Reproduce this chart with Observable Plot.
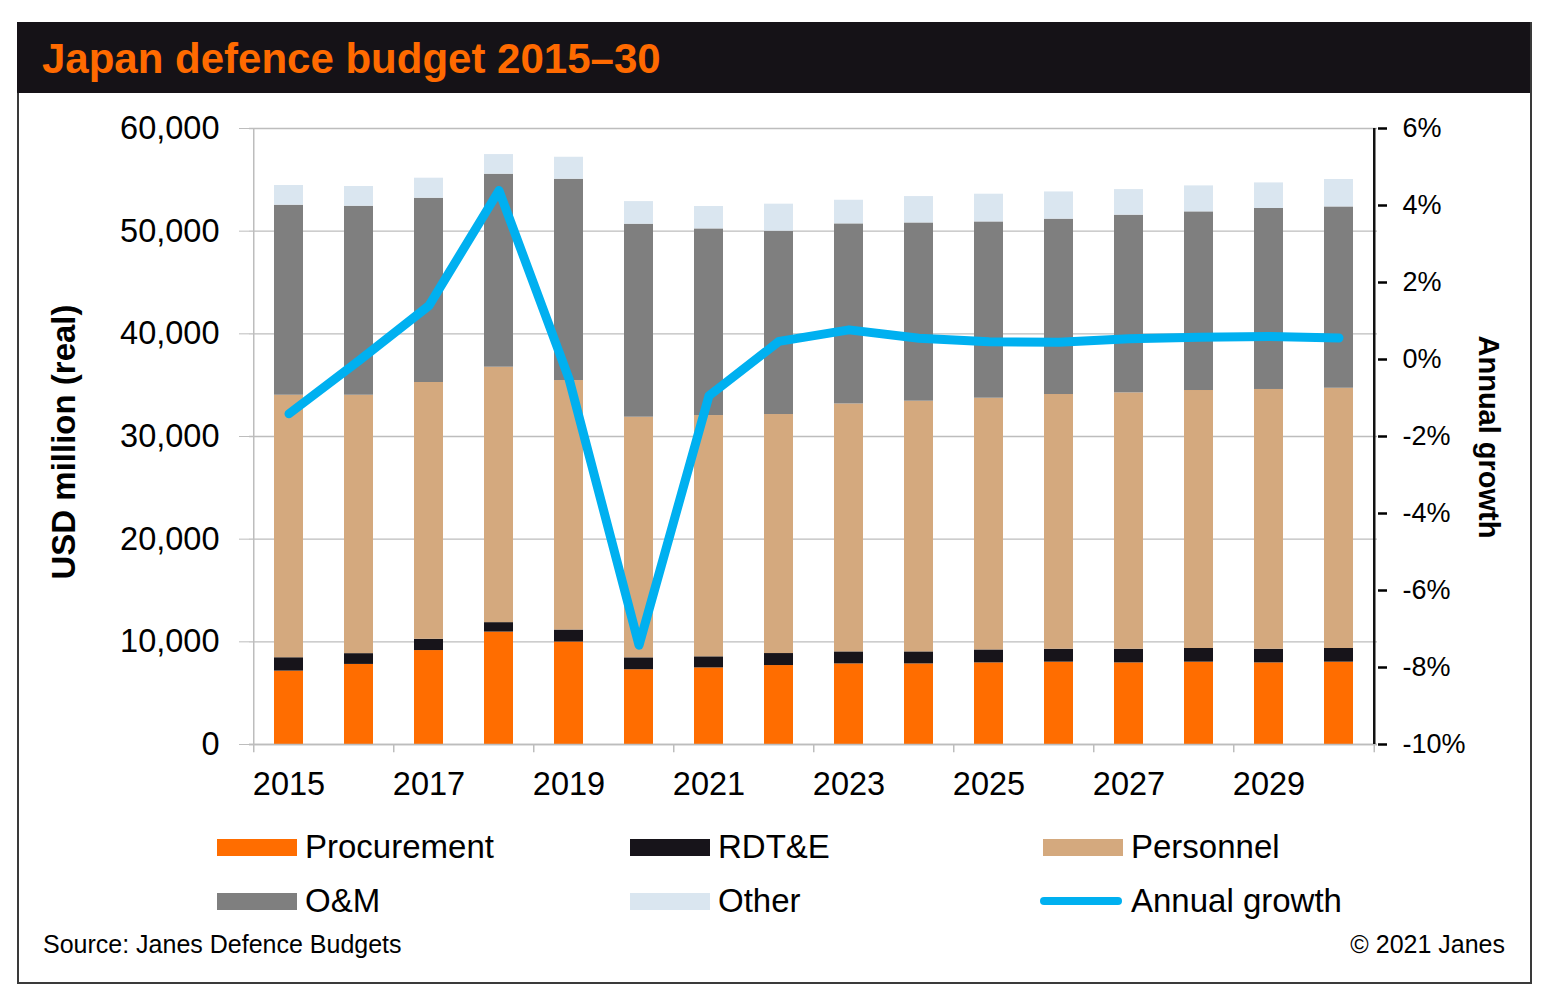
<!DOCTYPE html>
<html>
<head>
<meta charset="utf-8">
<script src="https://cdn.jsdelivr.net/npm/d3@7"></script>
<script src="https://cdn.jsdelivr.net/npm/@observablehq/plot@0.6"></script>
<style>
  html, body { margin: 0; padding: 0; background: #fff; }
  body { width: 1542px; height: 997px; position: relative; overflow: hidden; font-family: "Liberation Sans", Arial, sans-serif; }
  #frame { position: absolute; left: 17px; top: 22px; width: 1511px; height: 958px; border: 2px solid #3a3a3a; box-sizing: content-box; }
  #titlebar { position: absolute; left: 17px; top: 22px; width: 1513px; height: 71px; background: #151217; }
  #title { position: absolute; left: 42px; top: 36px; color: #FF6A00; font-weight: bold; font-size: 42px; line-height: 46px; white-space: nowrap; }
  .abs { position: absolute; white-space: nowrap; }
  #ytitle { left: 64px; top: 442px; transform: translate(-50%, -50%) rotate(-90deg); font-weight: bold; font-size: 33px; }
  #y2title { left: 1488px; top: 437px; transform: translate(-50%, -50%) rotate(90deg); font-weight: bold; font-size: 29px; }
  #chart1, #chart2 { position: absolute; left: 0; top: 100px; }
  .leg { position: absolute; font-size: 33px; line-height: 36px; white-space: nowrap; }
  .sw { position: absolute; width: 80px; height: 17px; }
  .swl { position: absolute; width: 82px; height: 8px; border-radius: 4px; }
  #source { left: 43px; top: 930px; font-size: 25px; }
  #copy { right: 37px; top: 930px; font-size: 25px; }
</style>
</head>
<body>
<div id="frame"></div>
<div id="titlebar"></div>
<div id="title">Japan defence budget 2015–30</div>
<div id="chart1"></div>
<div id="chart2"></div>
<div class="abs" id="ytitle">USD million (real)</div>
<div class="abs" id="y2title">Annual growth</div>
<div id="legend"></div>
<div class="abs" id="source">Source: Janes Defence Budgets</div>
<div class="abs" id="copy">© 2021 Janes</div>
<script>
// ---- data ----
const years = ["2015","2016","2017","2018","2019","2020","2021","2022","2023","2024","2025","2026","2027","2028","2029","2030"];
const seriesNames = ["Procurement","RDT&E","Personnel","O&M","Other"];
const seriesColors = ["#FF6D00","#17141A","#D4A97E","#7F7F7F","#DAE6F0"];
const growthName = "Annual growth";
const growthColor = "#00B0F0";

// USD million (real), segment values
const procurement = [7150, 7800, 9150, 10950, 9980, 7280, 7460, 7690, 7850, 7850, 7950, 8020, 7950, 8020, 7950, 8020];
const rdte        = [1300, 1050, 1100,  920, 1170, 1160, 1080, 1170, 1170, 1170, 1260, 1260, 1330, 1330, 1330, 1330];
const personnel   = [25570, 25170, 25010, 24880, 24300, 23440, 23500, 23280, 24150, 24420, 24520, 24810, 24970, 25130, 25300, 25350];
const om          = [18510, 18410, 17950, 18800, 19610, 18800, 18180, 17860, 17540, 17360, 17170, 17080, 17310, 17400, 17630, 17660];
const other       = [1920, 1920, 1950, 1910, 2140, 2200, 2180, 2630, 2300, 2570, 2700, 2650, 2490, 2530, 2490, 2670];

// Annual growth, percent
const growth = [-1.41, -0.03, 1.40, 4.39, -0.50, -7.42, -0.94, 0.47, 0.77, 0.55, 0.46, 0.45, 0.54, 0.58, 0.60, 0.56];

const yTicks = [0, 10000, 20000, 30000, 40000, 50000, 60000];
const y2Ticks = [-10, -8, -6, -4, -2, 0, 2, 4, 6];
const xLabelYears = ["2015","2017","2019","2021","2023","2025","2027","2029"];

// ---- tables ----
const segs = [procurement, rdte, personnel, om, other];
const barData = [];
years.forEach((yr, i) => {
  seriesNames.forEach((s, k) => barData.push({year: yr, series: s, value: segs[k][i]}));
});
const lineData = years.map((yr, i) => ({year: yr, value: growth[i]}));

// ---- layout ----
const W = 1542, H = 720;
const mLeft = 249, mRight = W - 1377, mTop = 28, mBottom = 76;
const step = (W - mLeft - mRight) / years.length;
const xScale = {type: "band", domain: years, paddingInner: 0.59, paddingOuter: 0.295};
const font = "Liberation Sans, Arial, sans-serif";

const chart1 = Plot.plot({
  width: W, height: H,
  marginLeft: mLeft, marginRight: mRight, marginTop: mTop, marginBottom: mBottom,
  style: {fontFamily: font, background: "transparent", color: "#000"},
  x: {...xScale, axis: null},
  y: {domain: [0, 60000], axis: null},
  color: {domain: seriesNames, range: seriesColors},
  marks: [
    Plot.gridY(yTicks, {stroke: "#BDBDBD", strokeOpacity: 1, strokeWidth: 1.3}),
    Plot.axisY({ticks: yTicks, tickSize: 10, stroke: "#BDBDBD", tickPadding: 20, fontSize: 32.5, tickFormat: d3.format(","), label: null, color: "#000"}),
    Plot.barY(barData, {x: "year", y: "value", fill: "series", order: seriesNames}),
    Plot.ruleY([0], {stroke: "#BDBDBD", strokeWidth: 1.5}),
    Plot.ruleX(["2015"], {x: d => d, y1: 60000, y2: -800, dx: -step / 2, stroke: "#BDBDBD", strokeWidth: 1.5}),
    Plot.ruleX(xLabelYears.slice(1), {x: d => d, y1: 0, y2: -800, dx: -step / 2, stroke: "#BDBDBD", strokeWidth: 1.5}),
    Plot.ruleX(["2030"], {x: d => d, y1: 0, y2: -800, dx: step / 2, stroke: "#BDBDBD", strokeWidth: 1.5}),
    Plot.axisX({ticks: xLabelYears, tickSize: 0, tickPadding: 27, fontSize: 32.5, label: null, color: "#000"})
  ]
});
document.getElementById("chart1").appendChild(chart1);

const chart2 = Plot.plot({
  width: W, height: H,
  marginLeft: mLeft, marginRight: mRight, marginTop: mTop, marginBottom: mBottom,
  style: {fontFamily: font, background: "transparent", color: "#000"},
  x: {...xScale, axis: null},
  y: {domain: [-10, 6], axis: null},
  marks: [
    Plot.line(lineData, {x: "year", y: "value", stroke: growthColor, strokeWidth: 9, strokeLinejoin: "round", strokeLinecap: "round"}),
    Plot.axisY({anchor: "right", ticks: y2Ticks, tickSize: 9, tickPadding: 16, fontSize: 27, strokeWidth: 2.5, tickFormat: d => d + "%", label: null, color: "#000"}),
    Plot.ruleX(["2030"], {x: d => d, y1: -10, y2: 6, dx: step / 2, stroke: "#111", strokeWidth: 2.5})
  ]
});
document.getElementById("chart2").appendChild(chart2);

// ---- legend ----
const legend = document.getElementById("legend");
const legItems = [
  {name: seriesNames[0], color: seriesColors[0], x: 217, y: 847},
  {name: seriesNames[1], color: seriesColors[1], x: 630, y: 847},
  {name: seriesNames[2], color: seriesColors[2], x: 1043, y: 847},
  {name: seriesNames[3], color: seriesColors[3], x: 217, y: 901},
  {name: seriesNames[4], color: seriesColors[4], x: 630, y: 901},
  {name: growthName, color: growthColor, x: 1040, y: 901, line: true}
];
legItems.forEach(it => {
  const sw = document.createElement("div");
  sw.className = it.line ? "swl" : "sw";
  sw.style.background = it.color;
  sw.style.left = it.x + "px";
  sw.style.top = (it.y - (it.line ? 4 : 8)) + "px";
  legend.appendChild(sw);
  const t = document.createElement("div");
  t.className = "leg";
  t.textContent = it.name;
  t.style.left = (it.x + (it.line ? 91 : 88)) + "px";
  t.style.top = (it.y - 18) + "px";
  legend.appendChild(t);
});
</script>
</body>
</html>
